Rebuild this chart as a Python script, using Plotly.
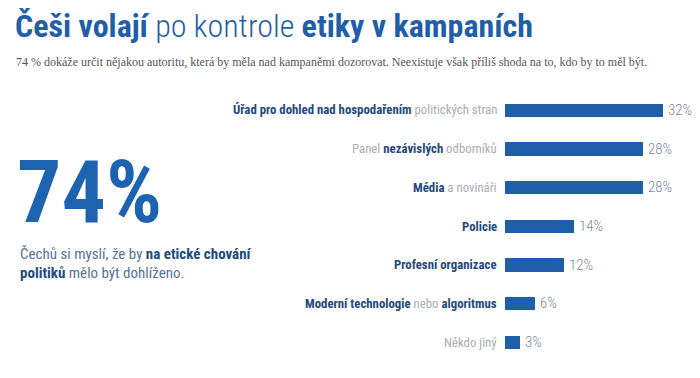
import plotly.graph_objects as go

W, H = 700, 378

# ---- data ----
categories = ["Úřad pro dohled nad hospodařením politických stran",
              "Panel nezávislých odborníků",
              "Média a novináři",
              "Policie",
              "Profesní organizace",
              "Moderní technologie nebo algoritmus",
              "Někdo jiný"]
# label parts: (text, emphasised?)
label_parts = [
    [("Úřad pro dohled nad hospodařením", True), (" politických stran", False)],
    [("Panel ", False), ("nezávislých", True), (" odborníků", False)],
    [("Média", True), (" a novináři", False)],
    [("Policie", True)],
    [("Profesní organizace", True)],
    [("Moderní technologie", True), (" nebo ", False), ("algoritmus", True)],
    [("Někdo jiný", False)],
]
values = [32, 28, 28, 14, 12, 6, 3]
value_labels = ["32%", "28%", "28%", "14%", "12%", "6%", "3%"]

BLUE = "#1f5ea8"
DARK = "#23497d"
GREY = "#a9adb3"
VAL = "#7a889c"
BODY = "#587296"

COND = "Roboto Condensed, DejaVu Sans Condensed, Roboto, sans-serif"


def px(x):
    return x / W


def py(y):
    return 1 - y / H


def rich(parts):
    out = []
    for t, emph in parts:
        if emph:
            out.append(f'<b><span style="color:{DARK}">{t}</span></b>')
        else:
            out.append(f'<span style="color:{GREY}">{t}</span>')
    return "".join(out)


fig = go.Figure()
fig.add_trace(go.Bar(
    x=values, y=categories, orientation="h",
    marker=dict(color=BLUE, line=dict(width=0)),
    width=0.34, hoverinfo="skip",
))

annotations = []
for cat, parts, v, lab in zip(categories, label_parts, values, value_labels):
    annotations.append(dict(
        x=0, y=cat, xref="x", yref="y", text=rich(parts), showarrow=False,
        xanchor="right", yanchor="middle", xshift=-6,
        font=dict(family=COND, size=12.8),
    ))
    annotations.append(dict(
        x=v, y=cat, xref="x", yref="y", text=lab, showarrow=False,
        xanchor="left", yanchor="middle", xshift=3,
        font=dict(family=COND, size=15, color=VAL, weight=300),
    ))

# Title
annotations.append(dict(
    x=px(13), y=py(26), xref="paper", yref="paper", xanchor="left", yanchor="middle",
    showarrow=False,
    text="<b>Češi volají</b> po kontrole <b>etiky v kampaních</b>",
    font=dict(family=COND, size=32, color=BLUE, weight=300),
))
# Subtitle
annotations.append(dict(
    x=px(14), y=py(62), xref="paper", yref="paper", xanchor="left", yanchor="middle",
    showarrow=False,
    text="74 % dokáže určit nějakou autoritu, která by měla nad kampaněmi dozorovat. Neexistuje však příliš shoda na to, kdo by to měl být.",
    font=dict(family="Liberation Serif, DejaVu Serif, serif", size=12, color="#555555"),
))
# Big number
annotations.append(dict(
    x=px(15), y=py(191), xref="paper", yref="paper", xanchor="left", yanchor="middle",
    showarrow=False, text="<b>74%</b>",
    font=dict(family=COND, size=88, color="#1e63b0"),
))
annotations.append(dict(
    x=px(18), y=py(254), xref="paper", yref="paper", xanchor="left", yanchor="middle",
    showarrow=False,
    text=f'Čechů si myslí, že by <b><span style="color:{DARK}">na etické chování</span></b>',
    font=dict(family=COND, size=15, color=BODY),
))
annotations.append(dict(
    x=px(18), y=py(273), xref="paper", yref="paper", xanchor="left", yanchor="middle",
    showarrow=False,
    text=f'<b><span style="color:{DARK}">politiků</span></b> mělo být dohlíženo.',
    font=dict(family=COND, size=15, color=BODY),
))

x0, x1 = 505, 700
pxper = 4.94
y_top = 110 - 38.7 / 2
y_bot = 342 + 38.7 / 2

fig.update_layout(
    width=W, height=H,
    margin=dict(l=0, r=0, t=0, b=0),
    paper_bgcolor="white", plot_bgcolor="white",
    showlegend=False,
    bargap=0,
    xaxis=dict(domain=[px(x0), px(x1)], range=[0, (x1 - x0) / pxper],
               visible=False, fixedrange=True),
    yaxis=dict(domain=[py(y_bot), py(y_top)], range=[6.5, -0.5],
               visible=False, fixedrange=True),
    annotations=annotations,
)

fig.write_html("out.html", config={"displayModeBar": False},
               post_script="document.body.style.margin='0';")
